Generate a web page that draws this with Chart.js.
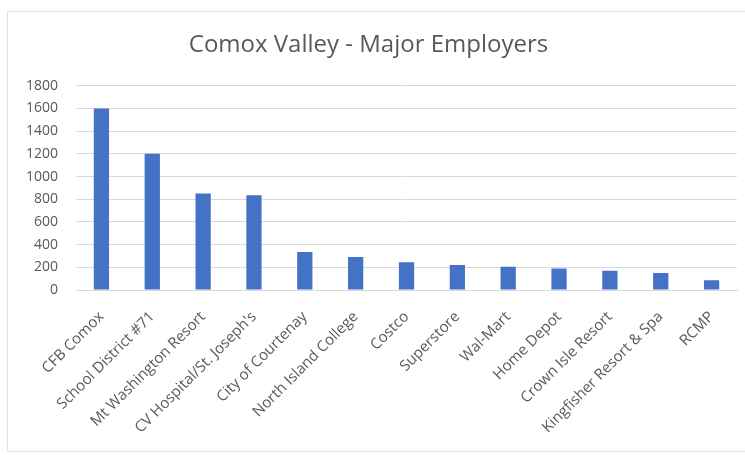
<!DOCTYPE html>
<html>
<head>
<meta charset="utf-8">
<script src="https://cdn.jsdelivr.net/npm/chart.js@4/dist/chart.umd.min.js"></script>
<style>
    body { margin: 0; background: #ffffff; }
    #frame {
        position: absolute;
        left: 7px; top: 11px;
        width: 745px; height: 439px;
        border: 1px solid #e3e3e3;
    }
    #wrap { position: absolute; left: 0; top: 0; width: 745px; height: 455px; }
</style>
</head>
<body>
<div id="frame"></div>
<div id="wrap"><canvas id="employersChart"></canvas></div>
<script>
// Chart data
const employers = [
    'CFB Comox', 'School District #71', 'Mt Washington Resort', "CV Hospital/St. Joseph's",
    'City of Courtenay', 'North Island College', 'Costco', 'Superstore', 'Wal-Mart',
    'Home Depot', 'Crown Isle Resort', 'Kingfisher Resort & Spa', 'RCMP'
];
const employeeCounts = [1600, 1200, 850, 835, 335, 290, 245, 220, 205, 190, 170, 150, 85];
const chartTitle = 'Comox Valley - Major Employers';
const yMax = 1800;
const yStep = 200;

const textColor = '#595959';
const gridColor = '#d9d9d9';
const fontFamily = "'Open Sans', 'Liberation Sans', sans-serif";

document.addEventListener('DOMContentLoaded', function() {
    const ctx = document.getElementById('employersChart');

    new Chart(ctx, {
        type: 'bar',
        data: {
            labels: employers,
            datasets: [{
                label: 'Employees',
                data: employeeCounts,
                backgroundColor: '#4472C4',
                borderWidth: 0,
                categoryPercentage: 1,
                barPercentage: 0.3
            }]
        },
        options: {
            responsive: true,
            maintainAspectRatio: false,
            animation: false,
            layout: {
                padding: { left: 0, right: 8, top: 0, bottom: 4 }
            },
            plugins: {
                legend: { display: false },
                tooltip: { enabled: false },
                title: {
                    display: true,
                    text: chartTitle,
                    color: textColor,
                    font: { family: fontFamily, size: 24, weight: 'normal' },
                    padding: { top: 31, bottom: 26 }
                }
            },
            scales: {
                y: {
                    min: 0,
                    max: yMax,
                    afterFit: function(scale) { scale.width = 76; },
                    border: { display: false },
                    grid: {
                        color: gridColor,
                        drawTicks: false
                    },
                    ticks: {
                        stepSize: yStep,
                        padding: 18,
                        color: textColor,
                        font: { family: fontFamily, size: 14 },
                        // plain numbers, no thousands separator
                        callback: value => String(value)
                    }
                },
                x: {
                    afterFit: function(scale) { scale.height = 161; },
                    border: { color: gridColor },
                    grid: { display: false },
                    ticks: {
                        minRotation: 45,
                        maxRotation: 45,
                        padding: 10,
                        autoSkip: false,
                        color: textColor,
                        font: { family: fontFamily, size: 15 }
                    }
                }
            }
        }
    });
});
</script>
</body>
</html>
